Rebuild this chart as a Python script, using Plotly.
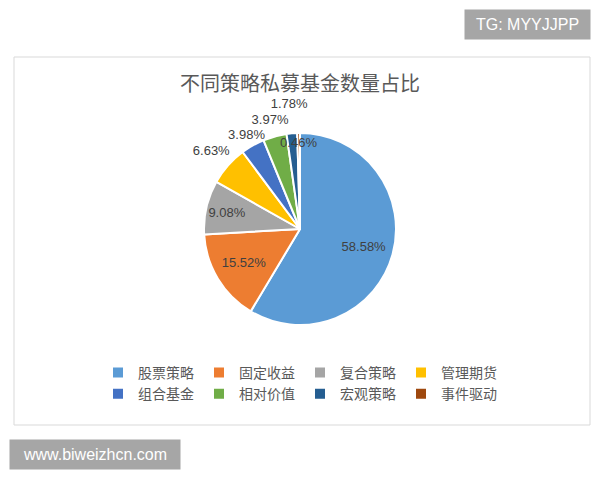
import plotly.graph_objects as go

categories = ["股票策略", "固定收益", "复合策略", "管理期货", "组合基金", "相对价值", "宏观策略", "事件驱动"]
shares = [58.58, 15.52, 9.08, 6.63, 3.98, 3.97, 1.78, 0.46]
colors = ["#5B9BD5", "#ED7D31", "#A5A5A5", "#FFC000", "#4472C4", "#70AD47", "#255E91", "#9E480E"]

# which slice labels each pie layer carries (main pie + invisible label rings)
LBL = "%{value:.2f}%"
main_text = ["", LBL, LBL, "", "", "", "", ""]
ring_labels = [  # (ring radius in px, labels)
    (142.4, ["", "", "", LBL, "", "", "", ""]),
    (121.5, ["", "", "", "", LBL, "", "", ""]),
    (127.6, ["", "", "", "", "", LBL, "", ""]),
    (132.5, [LBL, "", "", "", "", "", LBL, ""]),
    (88.0, ["", "", "", "", "", "", "", LBL]),
]

# page is rendered with an 8px body margin
OFF = 8
W, H = 592, 472
ML, MR, MT, MB = 76, 76, 40, 80
GW, GH = W - ML - MR, H - MT - MB

def X(x):
    return (x - OFF - ML) / GW

def Y(y):
    return (H - MB - (y - OFF)) / GH

CX, CY, R = 300, 229, 96
CJK = "Noto Sans CJK SC"
NUMFONT = "Liberation Sans"

def dom(r):
    return dict(x=[X(CX - r), X(CX + r)], y=[Y(CY + r), Y(CY - r)])

fig = go.Figure()
fig.add_trace(go.Pie(
    labels=categories,
    values=shares,
    sort=False,
    direction="clockwise",
    rotation=0,
    domain=dom(R),
    marker=dict(colors=colors, line=dict(color="white", width=2)),
    texttemplate=main_text,
    textposition="inside",
    insidetextorientation="horizontal",
    textfont=dict(family=NUMFONT, size=13, color="#404040"),
    hoverinfo="label+percent",
))
for rr, txt in ring_labels:
    fig.add_trace(go.Pie(
        labels=categories,
        values=shares,
        sort=False,
        direction="clockwise",
        rotation=0,
        domain=dom(rr),
        marker=dict(colors=["rgba(0,0,0,0)"] * len(categories), line=dict(width=0)),
        texttemplate=txt,
        textposition="inside",
        insidetextorientation="horizontal",
        textfont=dict(family=NUMFONT, size=13, color="#404040"),
        hoverinfo="skip",
        showlegend=False,
    ))

fig.update_layout(
    width=W, height=H,
    margin=dict(l=ML, r=MR, t=MT, b=MB, autoexpand=False),
    paper_bgcolor="white",
    plot_bgcolor="white",
    uniformtext=dict(minsize=13, mode="show"),
    title=dict(text="不同策略私募基金数量占比", x=X(300), xref="paper", xanchor="center",
               y=1 - (84 - OFF) / H, yref="container", yanchor="middle",
               font=dict(family=CJK, size=20, color="#595959")),
    showlegend=True,
    legend=dict(orientation="h", x=X(300), xanchor="center",
                y=Y(357), yanchor="top",
                font=dict(family=CJK, size=14, color="#595959"),
                itemwidth=30, tracegroupgap=0,
                bgcolor="rgba(0,0,0,0)"),
    shapes=[dict(type="rect", xref="paper", yref="paper",
                 x0=X(14), x1=X(590), y0=Y(425), y1=Y(57),
                 line=dict(color="#D9D9D9", width=1), layer="below")],
    annotations=[
        dict(text="TG: MYYJJPP", xref="paper", yref="paper",
             x=X(527.5), y=Y(24.5), xanchor="center", yanchor="middle",
             showarrow=False, bgcolor="#A6A6A6", width=123, height=27,
             font=dict(family="Liberation Sans", size=16, color="white")),
        dict(text="www.biweizhcn.com", xref="paper", yref="paper",
             x=X(95), y=Y(454.5), xanchor="center", yanchor="middle",
             showarrow=False, bgcolor="#A6A6A6", width=168, height=27,
             font=dict(family="Liberation Sans", size=16, color="white")),
    ],
)

fig.write_html("out.html")
